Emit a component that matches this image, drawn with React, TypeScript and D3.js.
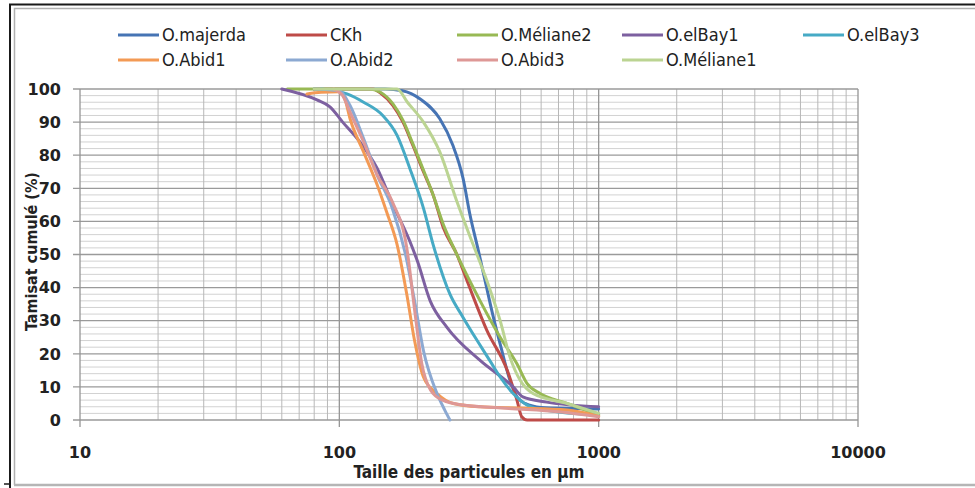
import React from "react";
import * as d3 from "d3";

type Pt = [number, number];

const seriesNames = ["O.majerda", "CKh", "O.Méliane2", "O.elBay1", "O.elBay3", "O.Abid1", "O.Abid2", "O.Abid3", "O.Méliane1"];
const seriesColors = ["#4674B4", "#BE4B48", "#98B954", "#7D60A0", "#46AAC5", "#F39A55", "#8CA9D2", "#DE9896", "#BBD492"];

const majerda: Pt[] = [[80, 100], [150, 100], [175, 99.5], [205, 97], [244, 91], [274, 83], [300, 73], [319, 62], [344, 51], [365, 42], [390, 32], [420, 22], [455, 12], [484, 7], [520, 5], [600, 3.8], [800, 3.5], [1000, 3.3]];
const ckh: Pt[] = [[80, 100], [135, 100], [144, 98.8], [161, 95], [176, 90], [192, 83], [211, 75], [230, 68], [252, 58], [284, 50], [311, 42], [371, 27], [444, 15], [484, 6], [505, 1], [530, 0], [1000, 0]];
const meliane2: Pt[] = [[63, 100], [130, 100], [144, 99], [161, 95.5], [176, 90.5], [192, 83.5], [211, 75.5], [230, 68], [252, 59], [280, 51], [349, 36], [417, 25], [484, 17], [530, 11], [594, 8], [755, 5], [1000, 1.5]];
const elBay1: Pt[] = [[60, 100], [82, 96.7], [92, 94.6], [103, 90], [120, 84], [140, 76], [161, 65], [187, 54], [200, 48], [224, 36], [260, 28], [349, 18], [468, 10], [510, 7], [630, 5.4], [1000, 4]];
const elBay3: Pt[] = [[85, 100], [107, 98.5], [124, 96], [147, 92], [167, 86], [187, 76], [211, 64], [230, 53], [267, 38], [300, 31], [340, 24], [380, 18], [417, 13], [468, 8], [530, 4.5], [620, 3], [1000, 1.5]];
const abid1: Pt[] = [[75, 98.5], [85, 99], [100, 99.2], [105, 97], [110, 91], [124, 81], [140, 71], [152, 63], [167, 53], [182, 38], [195, 24], [211, 13], [238, 8], [275, 5], [349, 4], [498, 3.6], [755, 3], [1000, 1.2]];
const abid2: Pt[] = [[80, 100], [100, 99.5], [110, 95], [124, 85], [140, 74], [160, 64], [180, 50], [195, 36], [211, 21], [238, 8], [255, 3], [267, 0]];
const abid3: Pt[] = [[95, 100], [103, 98], [110, 93], [124, 84], [140, 74], [160, 66], [182, 52], [196, 32], [208, 17], [225, 9], [250, 6], [300, 4.5], [450, 3.5], [700, 2.5], [1000, 1]];
const meliane1: Pt[] = [[80, 100], [167, 100], [183, 96], [211, 90], [244, 81], [284, 66], [328, 53], [371, 42], [417, 30], [455, 19], [498, 12], [558, 8], [755, 5], [1000, 2]];

const seriesData: Pt[][] = [majerda, ckh, meliane2, elBay1, elBay3, abid1, abid2, abid3, meliane1];

const xTickValues = [10, 100, 1000, 10000];
const xTickLabels = ["10", "100", "1000", "10000"];
const yTickValues = [0, 10, 20, 30, 40, 50, 60, 70, 80, 90, 100];

const W = 975;
const H = 488;
const L = 80, R = 858, T = 89, B = 420;

export default function App() {
  const x = d3.scaleLog().domain([10, 10000]).range([L, R]);
  const y = d3.scaleLinear().domain([0, 100]).range([B, T]);
  const line = d3.line<Pt>().x((d) => x(d[0])).y((d) => y(d[1])).curve(d3.curveMonotoneX);

  const minorY = d3.range(0, 101, 2).filter((v) => v % 10 !== 0);
  const minorX: number[] = [];
  [10, 100, 1000].forEach((dec) => { for (let k = 2; k <= 9; k++) minorX.push(dec * k); });

  const legendFont = "'Liberation Sans Narrow', 'DejaVu Sans Condensed', 'Arial Narrow', sans-serif";
  const axisFont = "'DejaVu Sans', Verdana, sans-serif";
  const titleFont = "'DejaVu Sans Condensed', 'DejaVu Sans', sans-serif";

  const legendPos: { x: number; y: number }[] = [
    { x: 118, y: 35 }, { x: 286, y: 35 }, { x: 457, y: 35 }, { x: 622, y: 35 }, { x: 803, y: 35 },
    { x: 118, y: 60 }, { x: 286, y: 60 }, { x: 457, y: 60 }, { x: 622, y: 60 },
  ];

  return (
    <svg width={W} height={H} style={{ position: "absolute", left: 0, top: 0, background: "#fff" }}>
      <rect x={0} y={0} width={W} height={H} fill="#fff" />
      {/* frame */}
      <path d="M10,488 V4.5 H975" fill="none" stroke="#1a1a1a" strokeWidth={2} />
      <path d="M14.5,485 V8.5 H975" fill="none" stroke="#b0b0b0" strokeWidth={1.5} />
      <line x1={14} x2={975} y1={485} y2={485} stroke="#b5b5b5" strokeWidth={2.5} />
      <line x1={4} x2={10} y1={484} y2={484} stroke="#1a1a1a" strokeWidth={1.5} />

      {/* grid */}
      {minorY.map((v) => (
        <line key={"my" + v} x1={L} x2={R} y1={y(v)} y2={y(v)} stroke="#d2d2d2" strokeWidth={1} />
      ))}
      {minorX.map((v) => (
        <line key={"mx" + v} x1={x(v)} x2={x(v)} y1={T} y2={B} stroke="#b8b8b8" strokeWidth={1} />
      ))}
      {yTickValues.map((v) => (
        <line key={"gy" + v} x1={L - 7} x2={R} y1={y(v)} y2={y(v)} stroke="#9a9a9a" strokeWidth={1.3} />
      ))}
      {xTickValues.map((v) => (
        <line key={"gx" + v} x1={x(v)} x2={x(v)} y1={T} y2={B + 7} stroke="#959595" strokeWidth={1.3} />
      ))}

      {/* series */}
      {seriesData.map((d, i) => (
        <path key={"s" + i} d={line(d) || ""} fill="none" stroke={seriesColors[i]} strokeWidth={3} strokeLinejoin="round" strokeLinecap="round" />
      ))}

      {/* y tick labels */}
      {yTickValues.map((v) => (
        <text key={"ty" + v} x={61} y={y(v)} dy="0.36em" textAnchor="end" fontFamily={axisFont} fontWeight="bold" fontSize={16} fill="#222">{v}</text>
      ))}
      {/* x tick labels */}
      {xTickValues.map((v, i) => (
        <text key={"tx" + v} x={x(v)} y={458} textAnchor="middle" fontFamily={axisFont} fontWeight="bold" fontSize={16} fill="#222">{xTickLabels[i]}</text>
      ))}

      {/* axis titles */}
      <text x={(L + R) / 2} y={478} textAnchor="middle" fontFamily={titleFont} fontWeight="bold" fontSize={17} fill="#222">Taille des particules en µm</text>
      <text transform={`translate(37,${(T + B) / 2 - 3}) rotate(-90)`} textAnchor="middle" fontFamily={titleFont} fontWeight="bold" fontSize={16} fill="#222">Tamisat cumulé (%)</text>

      {/* legend */}
      {seriesNames.map((n, i) => (
        <g key={"lg" + i}>
          <line x1={legendPos[i].x} x2={legendPos[i].x + 41} y1={legendPos[i].y} y2={legendPos[i].y} stroke={seriesColors[i]} strokeWidth={3} />
          <text x={legendPos[i].x + 44} y={legendPos[i].y} dy="0.36em" fontFamily={legendFont} fontSize={18} fill="#222">{n}</text>
        </g>
      ))}
    </svg>
  );
}
